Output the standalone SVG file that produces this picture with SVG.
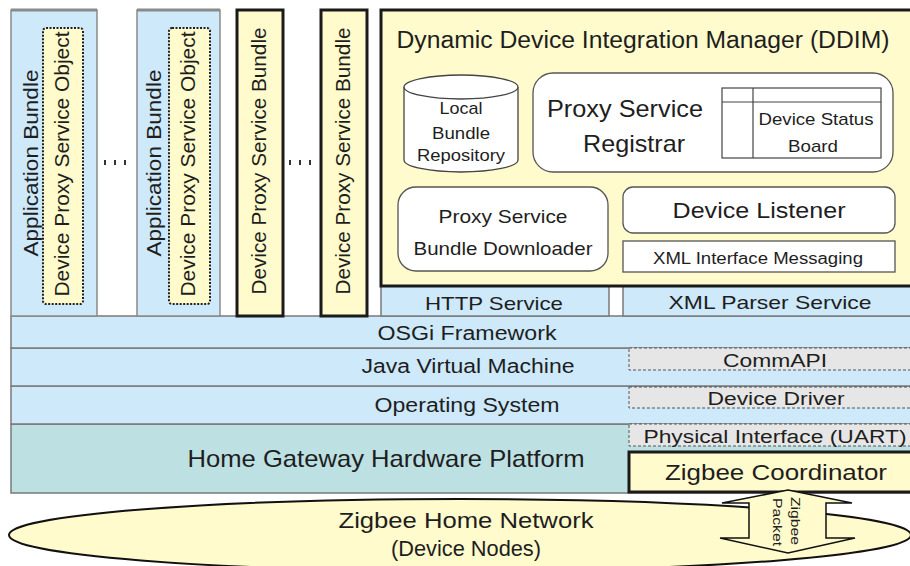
<svg xmlns="http://www.w3.org/2000/svg" width="910" height="566" viewBox="0 0 910 566">
  <style>
    text { font-family: "Liberation Sans", Arial, sans-serif; fill: #1e1e1e; }
    .mid { text-anchor: middle; }
    .band { fill: #cde9fa; stroke: #7a7a7a; stroke-width: 1.5; }
    .hw { fill: #bde0e2; stroke: #7a7a7a; stroke-width: 1.5; }
    .app { fill: #cde9fa; stroke: #8a8a8a; stroke-width: 1.5; }
    .obj { fill: #fffbcc; stroke: #222; stroke-width: 2; stroke-dasharray: 2 1.5; }
    .bundle { fill: #fffbcc; stroke: #1a1a1a; stroke-width: 3; }
    .comp { fill: #ffffff; stroke: #555; stroke-width: 1.3; }
    .dash { fill: #e6e6e6; stroke: #555; stroke-width: 1; stroke-dasharray: 3 2; }
    .dot { fill: #333; }
  </style>

  <!-- platform layers -->
  <g id="hardware">
    <rect class="hw" x="11" y="424" width="905" height="69"/>
    <text class="mid" x="386" y="467" font-size="24" textLength="397" lengthAdjust="spacingAndGlyphs">Home Gateway Hardware Platform</text>
  </g>
  <g id="os">
    <rect class="band" x="11" y="386" width="905" height="38"/>
    <text class="mid" x="467" y="412" font-size="20" textLength="185" lengthAdjust="spacingAndGlyphs">Operating System</text>
  </g>
  <g id="jvm">
    <rect class="band" x="11" y="348" width="905" height="38"/>
    <text class="mid" x="468" y="373" font-size="20" textLength="213" lengthAdjust="spacingAndGlyphs">Java Virtual Machine</text>
  </g>
  <g id="osgi">
    <rect class="band" x="11" y="316" width="905" height="32"/>
    <text class="mid" x="467" y="340" font-size="20" textLength="179" lengthAdjust="spacingAndGlyphs">OSGi Framework</text>
  </g>

  <!-- serial stack on the right -->
  <g id="commapi">
    <rect class="dash" x="629" y="348" width="285" height="22"/>
    <text class="mid" x="775" y="367" font-size="18" textLength="104" lengthAdjust="spacingAndGlyphs">CommAPI</text>
  </g>
  <g id="device-driver">
    <rect class="dash" x="629" y="387" width="285" height="21"/>
    <text class="mid" x="776" y="405" font-size="18" textLength="137" lengthAdjust="spacingAndGlyphs">Device Driver</text>
  </g>
  <g id="physical-interface">
    <rect class="dash" x="629" y="424" width="285" height="22"/>
    <text class="mid" x="775" y="443" font-size="18" textLength="263" lengthAdjust="spacingAndGlyphs">Physical Interface (UART)</text>
  </g>
  <g id="coordinator">
    <rect class="bundle" x="629" y="452" width="290" height="40"/>
    <text class="mid" x="776" y="480" font-size="22" textLength="222" lengthAdjust="spacingAndGlyphs">Zigbee Coordinator</text>
  </g>

  <!-- services under the DDIM -->
  <g id="http-service">
    <rect class="band" x="381" y="286" width="228" height="30"/>
    <text class="mid" x="494" y="310" font-size="19" textLength="138" lengthAdjust="spacingAndGlyphs">HTTP Service</text>
  </g>
  <g id="xml-parser">
    <rect class="band" x="623" y="286" width="293" height="30"/>
    <text class="mid" x="770" y="309" font-size="19" textLength="203" lengthAdjust="spacingAndGlyphs">XML Parser Service</text>
  </g>

  <!-- bundles -->
  <g id="app-bundle-1">
    <rect class="app" x="11" y="10" width="86" height="306"/>
    <line x1="11" y1="10" x2="97" y2="10" stroke="#8a8a8a" stroke-width="3"/>
    <text class="mid" transform="translate(38,163) rotate(-90)" font-size="21" textLength="187" lengthAdjust="spacingAndGlyphs">Application Bundle</text>
    <rect class="obj" x="43" y="28" width="40" height="276" rx="3"/>
    <text class="mid" transform="translate(69,164) rotate(-90)" font-size="20" textLength="265" lengthAdjust="spacingAndGlyphs">Device Proxy Service Object</text>
  </g>
  <g id="ellipsis-1">
    <rect class="dot" x="104" y="160" width="2" height="5"/>
    <rect class="dot" x="114" y="160" width="2" height="5"/>
    <rect class="dot" x="124" y="160" width="2" height="5"/>
  </g>
  <g id="app-bundle-2">
    <rect class="app" x="137" y="10" width="83" height="306"/>
    <line x1="137" y1="10" x2="220" y2="10" stroke="#8a8a8a" stroke-width="3"/>
    <text class="mid" transform="translate(161,163) rotate(-90)" font-size="21" textLength="187" lengthAdjust="spacingAndGlyphs">Application Bundle</text>
    <rect class="obj" x="169" y="28" width="41" height="276" rx="3"/>
    <text class="mid" transform="translate(195,164) rotate(-90)" font-size="20" textLength="265" lengthAdjust="spacingAndGlyphs">Device Proxy Service Object</text>
  </g>
  <g id="proxy-bundle-1">
    <rect class="bundle" x="237" y="10" width="46" height="306"/>
    <text class="mid" transform="translate(266,161) rotate(-90)" font-size="20" textLength="267" lengthAdjust="spacingAndGlyphs">Device Proxy Service Bundle</text>
  </g>
  <g id="ellipsis-2">
    <rect class="dot" x="289" y="160" width="2" height="5"/>
    <rect class="dot" x="299" y="160" width="2" height="5"/>
    <rect class="dot" x="309" y="160" width="2" height="5"/>
  </g>
  <g id="proxy-bundle-2">
    <rect class="bundle" x="321" y="10" width="46" height="306"/>
    <text class="mid" transform="translate(350,161) rotate(-90)" font-size="20" textLength="267" lengthAdjust="spacingAndGlyphs">Device Proxy Service Bundle</text>
  </g>

  <!-- Dynamic Device Integration Manager -->
  <g id="ddim">
    <rect class="bundle" x="381" y="10" width="540" height="276"/>
    <text class="mid" x="643" y="48" font-size="23" textLength="493" lengthAdjust="spacingAndGlyphs">Dynamic Device Integration Manager (DDIM)</text>
  </g>
  <g id="bundle-repository">
    <path d="M404,87 L404,160 A57,12 0 0 0 518,160 L518,87" fill="#fff" stroke="#444" stroke-width="1.3"/>
    <ellipse cx="461" cy="87" rx="57" ry="12" fill="#fff" stroke="#444" stroke-width="1.3"/>
    <text class="mid" x="461" y="114" font-size="17" textLength="43" lengthAdjust="spacingAndGlyphs">Local</text>
    <text class="mid" x="461" y="139" font-size="17" textLength="58" lengthAdjust="spacingAndGlyphs">Bundle</text>
    <text class="mid" x="461" y="161" font-size="17" textLength="88" lengthAdjust="spacingAndGlyphs">Repository</text>
  </g>
  <g id="registrar">
    <rect class="comp" x="533" y="73" width="360" height="99" rx="20"/>
    <text class="mid" x="625" y="117" font-size="24" textLength="156" lengthAdjust="spacingAndGlyphs">Proxy Service</text>
    <text class="mid" x="634" y="152" font-size="24" textLength="102" lengthAdjust="spacingAndGlyphs">Registrar</text>
  </g>
  <g id="status-board">
    <rect x="722" y="88" width="159" height="70" fill="#fff" stroke="#444" stroke-width="1.2"/>
    <line x1="722" y1="102" x2="881" y2="102" stroke="#444" stroke-width="1.2"/>
    <line x1="753" y1="88" x2="753" y2="158" stroke="#444" stroke-width="1.2"/>
    <text class="mid" x="816" y="125" font-size="17" textLength="115" lengthAdjust="spacingAndGlyphs">Device Status</text>
    <text class="mid" x="813" y="152" font-size="17" textLength="50" lengthAdjust="spacingAndGlyphs">Board</text>
  </g>
  <g id="downloader">
    <rect class="comp" x="398" y="187" width="210" height="84" rx="18"/>
    <text class="mid" x="503" y="223" font-size="19" textLength="129" lengthAdjust="spacingAndGlyphs">Proxy Service</text>
    <text class="mid" x="503" y="255" font-size="19" textLength="179" lengthAdjust="spacingAndGlyphs">Bundle Downloader</text>
  </g>
  <g id="device-listener">
    <rect class="comp" x="623" y="187" width="272" height="46" rx="10"/>
    <text class="mid" x="759" y="218" font-size="22" textLength="173" lengthAdjust="spacingAndGlyphs">Device Listener</text>
  </g>
  <g id="xml-messaging">
    <rect class="comp" x="623" y="241" width="272" height="31"/>
    <text class="mid" x="758" y="264" font-size="16" textLength="210" lengthAdjust="spacingAndGlyphs">XML Interface Messaging</text>
  </g>

  <!-- home network -->
  <g id="home-network">
    <ellipse cx="460" cy="535" rx="451" ry="36" fill="#fffbcc" stroke="#111" stroke-width="2"/>
    <text class="mid" x="466" y="528" font-size="22" textLength="255" lengthAdjust="spacingAndGlyphs">Zigbee Home Network</text>
    <text class="mid" x="466" y="556" font-size="22" textLength="150" lengthAdjust="spacingAndGlyphs">(Device Nodes)</text>
  </g>

  <!-- packet exchange between coordinator and network -->
  <g id="connectors">
    <path d="M788,490 L852,503 L826,503 L826,538 L855,538 L788,553 L720,538 L749,538 L749,503 L722,503 Z" fill="#fffbcc" stroke="#111" stroke-width="1.5" stroke-linejoin="miter"/>
    <text class="mid" transform="translate(791,521) rotate(90)" font-size="13" textLength="48" lengthAdjust="spacingAndGlyphs">Zigbee</text>
    <text class="mid" transform="translate(773,522) rotate(90)" font-size="13" textLength="48" lengthAdjust="spacingAndGlyphs">Packet</text>
  </g>
</svg>
